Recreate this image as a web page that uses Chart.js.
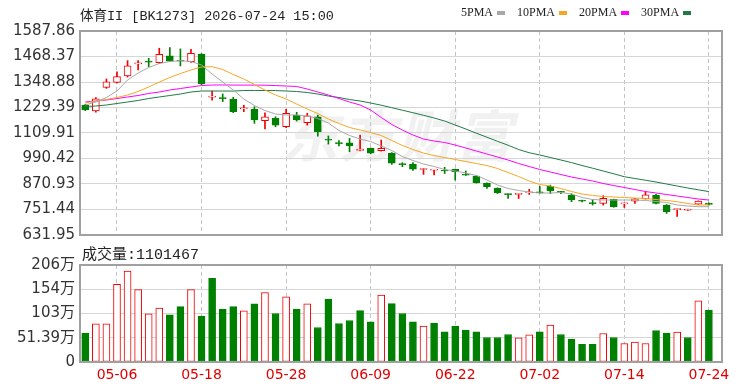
<!DOCTYPE html>
<html>
<head>
<meta charset="utf-8">
<script src="https://cdn.jsdelivr.net/npm/chart.js@4.4.0/dist/chart.umd.min.js"></script>
<style>
    body { margin: 0; background: #fff; }
    #wrap { position: relative; width: 750px; height: 391px; overflow: hidden; }
    #wrap canvas { position: absolute; left: 0; top: 0; }
    .txt { position: absolute; white-space: nowrap; color: #222; }
    #title { left: 80px; top: 4px; font-size: 13.5px; font-family: "Liberation Mono", "Noto Sans CJK SC", monospace; }
    #volTitle { left: 82px; top: 242px; font-size: 15px; font-family: "Liberation Mono", "Noto Sans CJK SC", monospace; }
    #legend { left: 461px; top: 5px; font-size: 12px; font-family: "Liberation Serif", "Noto Sans CJK SC", serif; }
    #legend i { display: inline-block; width: 8px; height: 4px; margin: 0 12px 0 4px; vertical-align: middle; }
    #mark { left: 282px; top: 92px; font: italic bold 56px "Noto Sans CJK SC"; color: #f1f1f1; letter-spacing: 2px; }
</style>
</head>
<body>
<div id="wrap">
    <div class="txt" id="mark">东方财富</div>
    <canvas id="priceChart" width="750" height="391"></canvas>
    <canvas id="volChart" width="750" height="391"></canvas>
    <div class="txt" id="title">体育II [BK1273] 2026-07-24 15:00</div>
    <div class="txt" id="legend"></div>
    <div class="txt" id="volTitle">成交量:1101467</div>
</div>
<script>
const dates = ['04-28', '04-29', '04-30', '05-06', '05-07', '05-08', '05-11', '05-12', '05-13', '05-14',
    '05-15', '05-18', '05-19', '05-20', '05-21', '05-22', '05-25', '05-26', '05-27', '05-28',
    '05-29', '06-01', '06-02', '06-03', '06-04', '06-05', '06-08', '06-09', '06-10', '06-11',
    '06-12', '06-15', '06-16', '06-17', '06-18', '06-22', '06-23', '06-24', '06-25', '06-26',
    '06-29', '06-30', '07-01', '07-02', '07-03', '07-06', '07-07', '07-08', '07-09', '07-10',
    '07-13', '07-14', '07-15', '07-16', '07-17', '07-20', '07-21', '07-22', '07-23', '07-24'];

const openP = [1240, 1213, 1324, 1347, 1377, 1434, 1446, 1439, 1471, 1451,
    1444, 1480, 1278, 1274, 1268, 1223, 1221, 1168, 1179, 1139,
    1194, 1158, 1186, 1078, 1063, 1064, 1028, 1038, 1027, 1015,
    964, 963, 939, 936, 934, 940, 914, 908, 874, 851,
    824, 822, 829, 832, 860, 834, 819, 792, 781, 780,
    799, 778, 790, 801, 819, 772, 751, 748, 776, 780];
const highP = [1244, 1276, 1363, 1397, 1449, 1449, 1460, 1507, 1510, 1504,
    1502, 1482, 1306, 1293, 1277, 1240, 1233, 1205, 1186, 1221,
    1207, 1202, 1194, 1096, 1074, 1085, 1100, 1040, 1077, 1018,
    971, 971, 943, 939, 949, 941, 932, 910, 876, 853,
    825, 826, 846, 860, 866, 836, 826, 795, 798, 816,
    800, 781, 804, 836, 823, 775, 754, 753, 792, 783];
const lowP = [1215, 1208, 1319, 1344, 1372, 1405, 1421, 1436, 1444, 1424,
    1441, 1336, 1264, 1257, 1205, 1210, 1155, 1129, 1139, 1135,
    1166, 1147, 1095, 1058, 1049, 1022, 1026, 1012, 1025, 963,
    952, 935, 916, 913, 920, 889, 911, 875, 850, 826,
    803, 803, 822, 828, 826, 826, 788, 787, 772, 772,
    762, 761, 780, 800, 778, 733, 719, 747, 775, 772];
const closeP = [1218, 1270, 1350, 1374, 1425, 1438, 1442, 1479, 1447, 1446,
    1483, 1340, 1281, 1271, 1210, 1226, 1171, 1186, 1147, 1202,
    1171, 1190, 1116, 1076, 1060, 1049, 1034, 1015, 1038, 968,
    962, 940, 942, 938, 932, 929, 912, 877, 858, 830,
    821, 825, 831, 829, 839, 832, 796, 790, 779, 804,
    764, 781, 802, 820, 780, 741, 753, 750, 791, 775];

const ma5 = [1241.1, 1255.1, 1276.2, 1306.7, 1358.2, 1391.0, 1416.8, 1435.5, 1444.9, 1448.7,
    1444.9, 1428.5, 1386.3, 1348.8, 1311.4, 1269.2, 1238.7, 1215.3, 1198.9, 1194.2,
    1194.2, 1189.5, 1177.8, 1156.7, 1121.6, 1098.2, 1081.7, 1070.0, 1048.9, 1027.9,
    999.7, 981.0, 964.6, 952.9, 938.8, 931.8, 922.4, 910.7, 889.6, 866.2,
    849.8, 840.4, 833.4, 828.7, 828.7, 831.0, 824.0, 807.6, 798.2, 795.9,
    795.9, 795.9, 795.9, 793.6, 788.9, 784.2, 772.5, 767.8, 764.5, 764.5];
const ma10 = [1250.4, 1259.8, 1266.8, 1276.2, 1287.9, 1304.3, 1325.4, 1348.8, 1369.9, 1388.7,
    1405.1, 1419.1, 1420.5, 1407.4, 1384.0, 1362.9, 1337.1, 1311.4, 1287.9, 1269.2,
    1245.8, 1222.3, 1201.2, 1175.5, 1154.4, 1135.6, 1123.9, 1112.2, 1098.1, 1074.7,
    1051.3, 1032.5, 1016.1, 1004.4, 995.1, 985.7, 976.3, 966.9, 957.6, 943.5,
    924.8, 906.0, 884.9, 868.5, 861.5, 849.8, 835.7, 824.0, 817.0, 812.3,
    810.0, 807.6, 805.3, 802.9, 798.2, 793.6, 787.9, 779.5, 772.5, 772.5];
const ma20 = [1255.1, 1259.8, 1264.5, 1271.5, 1278.6, 1285.6, 1295.0, 1302.0, 1311.4, 1318.4,
    1325.4, 1332.4, 1334.8, 1334.9, 1334.6, 1334.4, 1334.3, 1334.0, 1332.1, 1330.1,
    1327.8, 1316.0, 1302.0, 1287.9, 1271.5, 1255.1, 1241.1, 1217.6, 1182.5, 1149.7,
    1123.9, 1100.5, 1081.7, 1072.4, 1065.3, 1053.6, 1039.6, 1025.5, 1011.5, 997.4,
    983.3, 966.9, 952.9, 938.8, 927.1, 915.4, 903.7, 894.3, 884.9, 873.2,
    863.8, 854.5, 845.1, 835.7, 828.7, 821.7, 814.6, 807.6, 800.6, 795.9];
const ma30 = [1234.1, 1236.4, 1241.1, 1248.1, 1255.1, 1262.2, 1271.5, 1278.6, 1285.6, 1292.6,
    1302.0, 1306.7, 1306.7, 1306.5, 1306.3, 1309.0, 1309.2, 1309.0, 1308.8, 1306.7,
    1304.3, 1299.6, 1292.6, 1283.2, 1276.2, 1266.8, 1259.8, 1250.4, 1240.1, 1228.4,
    1216.7, 1205.0, 1192.8, 1180.2, 1166.1, 1147.3, 1128.6, 1108.9, 1090.2, 1071.0,
    1052.7, 1032.5, 1017.5, 1006.8, 995.1, 983.3, 971.2, 957.6, 944.9, 931.8,
    918.7, 905.1, 896.6, 888.7, 880.2, 870.9, 861.5, 852.1, 843.7, 835.3];

// volume in 万
const volume = [61.3, 80.9, 80.9, 164.8, 192.9, 153.4, 102.0, 114.1, 99.9, 117.5,
    153.4, 97.2, 177.5, 112.0, 117.5, 108.4, 123.2, 147.1, 102.7, 138.0,
    112.0, 123.2, 73.1, 133.1, 81.6, 87.9, 109.0, 85.1, 141.6, 123.8,
    102.7, 85.1, 76.1, 82.4, 64.0, 76.1, 67.6, 64.0, 52.0, 52.0,
    58.3, 51.3, 57.7, 64.0, 78.2, 58.3, 48.6, 37.2, 37.2, 60.4,
    52.0, 39.3, 42.3, 39.3, 66.8, 61.3, 63.4, 52.0, 129.5, 110.1467];
const volUp = [0, 1, 1, 1, 1, 1, 1, 1, 0, 0,
    1, 0, 0, 0, 0, 1, 0, 1, 0, 1,
    0, 1, 0, 0, 0, 0, 0, 0, 1, 0,
    0, 0, 1, 0, 0, 0, 0, 0, 0, 0,
    0, 1, 1, 0, 1, 0, 0, 0, 0, 1,
    0, 1, 1, 1, 0, 0, 1, 0, 1, 0];

const maNames = ['5PMA', '10PMA', '20PMA', '30PMA'];
const maColors = ['#a8a8a8', '#f5a623', '#ff00ff', '#217a45'];

const xTickLabels = ['05-06', '05-18', '05-28', '06-09', '06-22', '07-02', '07-14', '07-24'];
const priceTicks = [631.95, 751.44, 870.93, 990.42, 1109.91, 1229.39, 1348.88, 1468.37, 1587.86];
const volTicks = [0, 51.39, 102.78, 154.17, 205.56];
const volTickLabels = ['0', '51.39万', '103万', '154万', '206万'];

const RED = '#f00000';
const GREEN = '#008000';

Chart.defaults.font.family = '"DejaVu Sans", "Noto Sans CJK SC", sans-serif';

let xTickIdx = xTickLabels.map((d) => dates.indexOf(d));

let framePlugin = {
    id: 'frame',
    afterDraw(chart) {
        let a = chart.chartArea;
        let ctx = chart.ctx;
        ctx.save();
        ctx.strokeStyle = '#a0a0a0';
        ctx.lineWidth = 2;
        ctx.strokeRect(a.left, a.top, a.right - a.left, a.bottom - a.top);
        ctx.restore();
    }
};

function xScale(showLabels) {
    return {
        type: 'linear',
        min: -0.5,
        max: 60.24,
        offset: false,
        afterBuildTicks: (axis) => {
            axis.ticks = xTickIdx.map((v) => ({ value: v }));
        },
        afterFit: (axis) => {
            axis.height = showLabels ? 29 : 0;
        },
        grid: { color: '#c4c4c4', offset: false, drawTicks: false },
        border: { display: false, dash: [4, 3] },
        ticks: {
            display: showLabels,
            color: '#e00000',
            font: { size: 14 },
            padding: 5,
            maxRotation: 0,
            autoSkip: false,
            callback: (v, i) => xTickLabels[i]
        }
    };
}

let legendHtml = '';
for (var i = 0; i < maNames.length; i++) {
    legendHtml += maNames[i] + '<i style="background:' + maColors[i] + '"></i>';
}
document.getElementById('legend').innerHTML = legendHtml;

let wickData = dates.map((d, i) => ({ x: i, y: [lowP[i], highP[i]] }));
let bodyData = dates.map((d, i) => ({ x: i, y: [openP[i], closeP[i]] }));
let candleUp = dates.map((d, i) => closeP[i] >= openP[i]);

let maSets = [ma5, ma10, ma20, ma30].map((arr, k) => ({
    type: 'line',
    data: arr.map((v, i) => ({ x: i, y: v })),
    borderColor: maColors[k],
    borderWidth: 1,
    pointRadius: 0,
    tension: 0,
    order: 0
}));

new Chart(document.getElementById('priceChart'), {
    type: 'bar',
    data: {
        datasets: maSets.concat([
            {
                data: bodyData,
                grouped: false,
                barThickness: 7,
                minBarLength: 1,
                backgroundColor: candleUp.map((u) => u ? '#ffffff' : GREEN),
                borderColor: candleUp.map((u) => u ? RED : GREEN),
                borderWidth: 1,
                borderSkipped: false,
                order: 1
            },
            {
                data: wickData,
                grouped: false,
                barThickness: 1,
                backgroundColor: candleUp.map((u) => u ? RED : GREEN),
                order: 2
            }
        ])
    },
    options: {
        responsive: false,
        animation: false,
        layout: { padding: { top: 31, bottom: 156, left: 0, right: 28 } },
        plugins: { legend: { display: false }, tooltip: { enabled: false } },
        scales: {
            x: xScale(false),
            y: {
                type: 'linear',
                min: priceTicks[0],
                max: priceTicks[priceTicks.length - 1],
                afterBuildTicks: (axis) => {
                    axis.ticks = priceTicks.map((v) => ({ value: v }));
                },
                afterFit: (axis) => {
                    axis.width = 80;
                },
                grid: { color: '#d6d6d6', drawTicks: false },
                border: { display: false },
                ticks: {
                    color: '#333',
                    font: { size: 15 },
                    padding: 5,
                    callback: (v) => v.toFixed(2)
                }
            }
        }
    },
    plugins: [framePlugin]
});

new Chart(document.getElementById('volChart'), {
    type: 'bar',
    data: {
        datasets: [{
            data: volume.map((v, i) => ({ x: i, y: v })),
            grouped: false,
            barThickness: 7,
            backgroundColor: volUp.map((u) => u ? '#ffffff' : GREEN),
            borderColor: volUp.map((u) => u ? RED : GREEN),
            borderWidth: 1,
            borderSkipped: false
        }]
    },
    options: {
        responsive: false,
        animation: false,
        layout: { padding: { top: 265, bottom: 0, left: 0, right: 28 } },
        plugins: { legend: { display: false }, tooltip: { enabled: false } },
        scales: {
            x: xScale(true),
            y: {
                type: 'linear',
                min: volTicks[0],
                max: volTicks[volTicks.length - 1],
                afterBuildTicks: (axis) => {
                    axis.ticks = volTicks.map((v) => ({ value: v }));
                },
                afterFit: (axis) => {
                    axis.width = 80;
                },
                grid: { color: '#d6d6d6', drawTicks: false },
                border: { display: false },
                ticks: {
                    color: '#333',
                    font: { size: 15 },
                    padding: 5,
                    callback: (v, i) => volTickLabels[i]
                }
            }
        }
    },
    plugins: [framePlugin]
});
</script>
</body>
</html>
